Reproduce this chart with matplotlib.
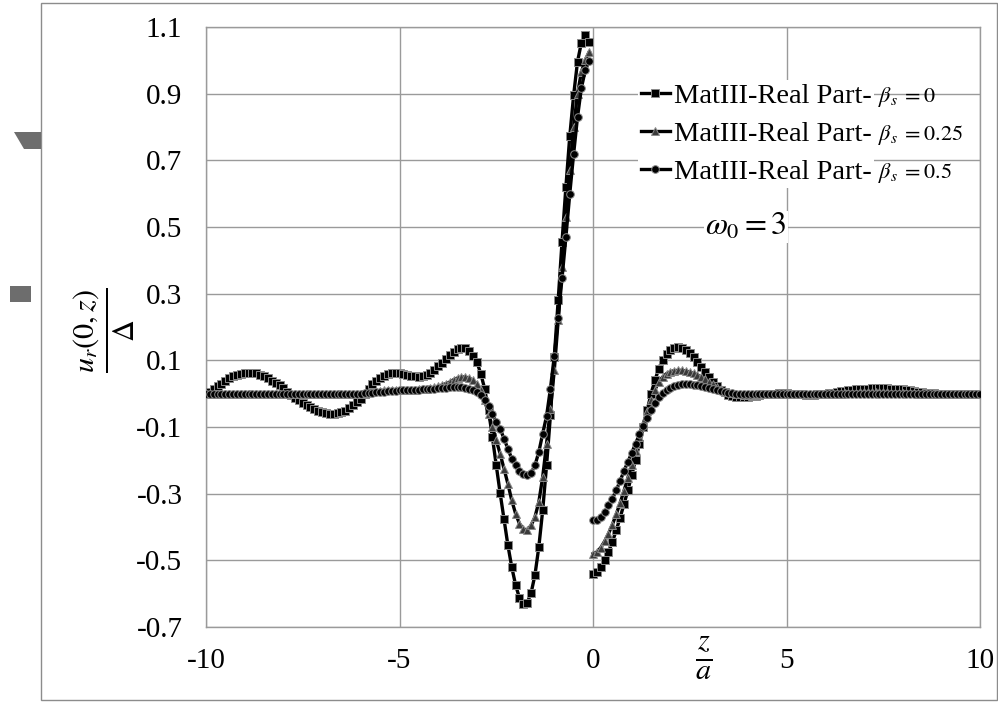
import numpy as np
import matplotlib
matplotlib.use("Agg")
import matplotlib.pyplot as plt
from matplotlib.patches import Rectangle, Polygon

plt.rcParams["font.family"] = ["Liberation Serif", "DejaVu Serif"]
plt.rcParams["mathtext.fontset"] = "stix"

# sample positions z/a (left branch ends just before 0, right branch starts at 0)
z_left = np.linspace(-10.0, -0.1, 100)
z_right = np.linspace(0.0, 10.0, 101)

# beta_s = 0  (squares)
b0_left = [
    0.0, 0.006, 0.013, 0.022, 0.030, 0.038, 0.046, 0.052, 0.056, 0.060,
    0.062, 0.063, 0.063, 0.061, 0.057, 0.052, 0.046, 0.039, 0.032, 0.025,
    0.016, 0.006, -0.003, -0.012, -0.020, -0.027, -0.034, -0.041, -0.047, -0.052,
    -0.056, -0.059, -0.061, -0.061, -0.059, -0.056, -0.051, -0.043, -0.034, -0.025,
    -0.015, -0.002, 0.015, 0.028, 0.039, 0.047, 0.053, 0.058, 0.061, 0.062,
    0.062, 0.060, 0.057, 0.054, 0.052, 0.051, 0.052, 0.056, 0.063, 0.072,
    0.082, 0.093, 0.105, 0.116, 0.126, 0.134, 0.138, 0.137, 0.129, 0.113,
    0.095, 0.060, 0.015, -0.050, -0.130, -0.215, -0.298, -0.376, -0.454, -0.520,
    -0.574, -0.613, -0.632, -0.628, -0.598, -0.544, -0.460, -0.350, -0.215, -0.065,
    0.110, 0.280, 0.456, 0.621, 0.773, 0.896, 0.996, 1.053, 1.076, 1.055,
]
b0_right = [
    -0.540, -0.535, -0.520, -0.500, -0.475, -0.445, -0.410, -0.372, -0.332, -0.290,
    -0.245, -0.198, -0.150, -0.100, -0.050, 0.000, 0.040, 0.075, 0.102, 0.120,
    0.132, 0.138, 0.140, 0.138, 0.132, 0.122, 0.110, 0.096, 0.080, 0.064,
    0.050, 0.036, 0.023, 0.012, 0.004, -0.003, -0.008, -0.010, -0.011, -0.011,
    -0.010, -0.008, -0.006, -0.004, -0.002, -0.001, 0.0, 0.0, 0.001, 0.001,
    0.001, 0.0, 0.0, -0.001, -0.002, -0.003, -0.003, -0.003, -0.002, -0.001,
    0.0, 0.001, 0.003, 0.005, 0.007, 0.009, 0.011, 0.012, 0.013, 0.014,
    0.015, 0.015, 0.016, 0.016, 0.016, 0.016, 0.016, 0.015, 0.015, 0.014,
    0.013, 0.012, 0.010, 0.008, 0.006, 0.004, 0.003, 0.002, 0.001, 0.0,
    0.0, 0.0, 0.0, 0.0, 0.0, 0.0, 0.0, 0.0, 0.0, 0.0,
    0.0,
]

# beta_s = 0.25  (triangles)
b25_left = [
    0.0, 0.0, 0.0, 0.0, 0.0, 0.0, 0.0, 0.0, 0.0, 0.0,
    0.0, 0.0, 0.0, 0.0, 0.0, 0.0, 0.0, 0.0, 0.0, 0.0,
    0.0, 0.0, 0.0, 0.0, 0.0, 0.0, 0.0, 0.0, 0.0, 0.0,
    0.0, 0.0, 0.0, 0.0, 0.0, 0.0, 0.0, 0.0, 0.0, 0.0,
    0.0, 0.002, 0.004, 0.006, 0.008, 0.009, 0.010, 0.011, 0.011, 0.012,
    0.012, 0.012, 0.012, 0.012, 0.012, 0.013, 0.014, 0.015, 0.017, 0.019,
    0.022, 0.026, 0.030, 0.035, 0.042, 0.047, 0.050, 0.050, 0.047, 0.040,
    0.030, 0.010, -0.020, -0.060, -0.100, -0.140, -0.180, -0.225, -0.270, -0.320,
    -0.360, -0.390, -0.405, -0.410, -0.395, -0.370, -0.325, -0.250, -0.150, -0.045,
    0.070, 0.220, 0.380, 0.530, 0.670, 0.800, 0.900, 0.965, 1.000, 1.025,
]
b25_right = [
    -0.480, -0.475, -0.462, -0.443, -0.420, -0.393, -0.362, -0.328, -0.292, -0.253,
    -0.213, -0.172, -0.130, -0.090, -0.052, -0.018, 0.012, 0.035, 0.050, 0.060,
    0.066, 0.069, 0.070, 0.070, 0.068, 0.065, 0.061, 0.056, 0.050, 0.043,
    0.036, 0.028, 0.021, 0.014, 0.008, 0.004, 0.001, -0.001, -0.002, -0.003,
    -0.003, -0.003, -0.002, -0.001, 0.0, 0.0, 0.0, 0.0, 0.0, 0.0,
    0.0, 0.0, 0.0, 0.0, 0.0, 0.0, 0.0, 0.0, 0.0, 0.0,
    0.0, 0.0, 0.0, 0.0, 0.0, 0.001, 0.002, 0.003, 0.003, 0.004,
    0.004, 0.004, 0.004, 0.004, 0.004, 0.004, 0.004, 0.003, 0.003, 0.003,
    0.002, 0.002, 0.001, 0.001, 0.0, 0.0, 0.0, 0.0, 0.0, 0.0,
    0.0, 0.0, 0.0, 0.0, 0.0, 0.0, 0.0, 0.0, 0.0, 0.0,
    0.0,
]

# beta_s = 0.5  (circles)
b5_left = [
    0.0, 0.0, 0.0, 0.0, 0.0, 0.0, 0.0, 0.0, 0.0, 0.0,
    0.0, 0.0, 0.0, 0.0, 0.0, 0.0, 0.0, 0.0, 0.0, 0.0,
    0.0, 0.0, 0.0, 0.0, 0.0, 0.0, 0.0, 0.0, 0.0, 0.0,
    0.0, 0.0, 0.0, 0.0, 0.0, 0.0, 0.0, 0.0, 0.0, 0.0,
    0.0, 0.001, 0.002, 0.003, 0.004, 0.005, 0.006, 0.007, 0.008, 0.009,
    0.010, 0.010, 0.011, 0.011, 0.012, 0.012, 0.013, 0.013, 0.014, 0.015,
    0.016, 0.017, 0.018, 0.019, 0.020, 0.020, 0.020, 0.018, 0.015, 0.010,
    0.005, -0.005, -0.020, -0.038, -0.060, -0.085, -0.105, -0.135, -0.165, -0.195,
    -0.215, -0.232, -0.242, -0.245, -0.238, -0.215, -0.175, -0.120, -0.067, 0.015,
    0.113, 0.227, 0.347, 0.470, 0.600, 0.720, 0.830, 0.917, 0.970, 0.999,
]
b5_right = [
    -0.380, -0.378, -0.370, -0.355, -0.335, -0.315, -0.290, -0.262, -0.232, -0.205,
    -0.178, -0.150, -0.122, -0.097, -0.072, -0.048, -0.027, -0.010, 0.003, 0.012,
    0.018, 0.023, 0.026, 0.028, 0.029, 0.029, 0.027, 0.025, 0.022, 0.019,
    0.016, 0.013, 0.010, 0.007, 0.005, 0.003, 0.001, 0.0, -0.002, -0.002,
    -0.002, -0.002, -0.002, -0.001, 0.0, 0.0, 0.0, 0.0, 0.0, 0.0,
    0.0, 0.0, 0.0, 0.0, 0.0, 0.0, 0.0, 0.0, 0.0, 0.0,
    0.0, 0.0, 0.0, 0.0, 0.0, 0.0, 0.0, 0.0, 0.0, 0.0,
    0.0, 0.0, 0.0, 0.0, 0.0, 0.0, 0.0, 0.0, 0.0, 0.0,
    0.0, 0.0, 0.0, 0.0, 0.0, 0.0, 0.0, 0.0, 0.0, 0.0,
    0.0, 0.0, 0.0, 0.0, 0.0, 0.0, 0.0, 0.0, 0.0, 0.0,
    0.0,
]

series_name = "MatIII-Real Part-"
beta_labels = [r"$\beta_s\;=0$", r"$\beta_s\;=0.25$", r"$\beta_s\;=0.5$"]
x_ticks = [-10, -5, 0, 5, 10]
y_ticks = [-0.7, -0.5, -0.3, -0.1, 0.1, 0.3, 0.5, 0.7, 0.9, 1.1]

grid_col = "#9a9a9a"

fig = plt.figure(figsize=(9.98, 7.02), dpi=100)
ax = fig.add_axes([206 / 998, 1 - 627 / 702, 774 / 998, 600 / 702])

series = [
    (b0_left, b0_right, "s", "black"),
    (b25_left, b25_right, "^", "#3a3a3a"),
    (b5_left, b5_right, "o", "black"),
]
for left, right, mk, fc in series:
    style = dict(color="black", lw=2.4, marker=mk, ms=5.5, mfc=fc,
                 mec="#8a8a8a", mew=0.7, zorder=3)
    ax.plot(z_left, left, label=series_name, **style)
    ax.plot(z_right, right, **style)

ax.set_xlim(-10, 10)
ax.set_ylim(-0.7, 1.1)
ax.set_xticks(x_ticks)
ax.set_xticklabels([str(t) for t in x_ticks])
ax.set_yticks(y_ticks)
ax.set_yticklabels([f"{t:.1f}" for t in y_ticks])
ax.tick_params(length=0, labelsize=21)
ax.tick_params(axis="y", pad=17)
ax.tick_params(axis="x", pad=15)
ax.grid(True, color=grid_col, lw=1.0)
ax.set_axisbelow(True)
for sp in ax.spines.values():
    sp.set_color(grid_col)
    sp.set_linewidth(1.0)

leg = ax.legend(loc="upper left", bbox_to_anchor=(0.54, 0.935), fontsize=20.5,
                frameon=True, facecolor="white", edgecolor="none", framealpha=1,
                handlelength=1.0, handletextpad=0.15, labelspacing=0.43,
                borderpad=0.1, fancybox=False)
# the beta part of each entry is set smaller, right after the series name
for txt, bl in zip(leg.get_texts(), beta_labels):
    ax.annotate(bl, xy=(1, 0.5), xycoords=txt, xytext=(5, 0),
                textcoords="offset points", fontsize=16, ha="left",
                va="center", zorder=6)

ax.text(3.95, 0.5, r"$\omega_0 = 3$", fontsize=23, ha="center", va="center",
        bbox=dict(facecolor="white", edgecolor="none", pad=1), zorder=4)
ax.text(2.85, -0.795, r"$\frac{z}{a}$", fontsize=31, ha="center", va="center",
        clip_on=False)
fig.text(104 / 998, 1 - 330 / 702, r"$\frac{u_r(0,z)}{\Delta}$", fontsize=31,
         rotation=90, ha="center", va="center")

# outer chart border and the stray grey shapes on the left edge
fig.patches.append(Rectangle((41 / 998, 1 - 700 / 702), 956 / 998, 697 / 702,
                             transform=fig.transFigure, fill=False,
                             edgecolor="#8c8c8c", lw=1.0))
fig.patches.append(Polygon([(14 / 998, 1 - 132 / 702), (41 / 998, 1 - 132 / 702),
                            (41 / 998, 1 - 149 / 702), (24 / 998, 1 - 149 / 702)],
                           closed=True, transform=fig.transFigure,
                           facecolor="#6d6d6d", edgecolor="none"))
fig.patches.append(Rectangle((10 / 998, 1 - 302 / 702), 21 / 998, 16 / 702,
                             transform=fig.transFigure, facecolor="#6d6d6d",
                             edgecolor="none"))

fig.savefig("out.png", dpi=100)
